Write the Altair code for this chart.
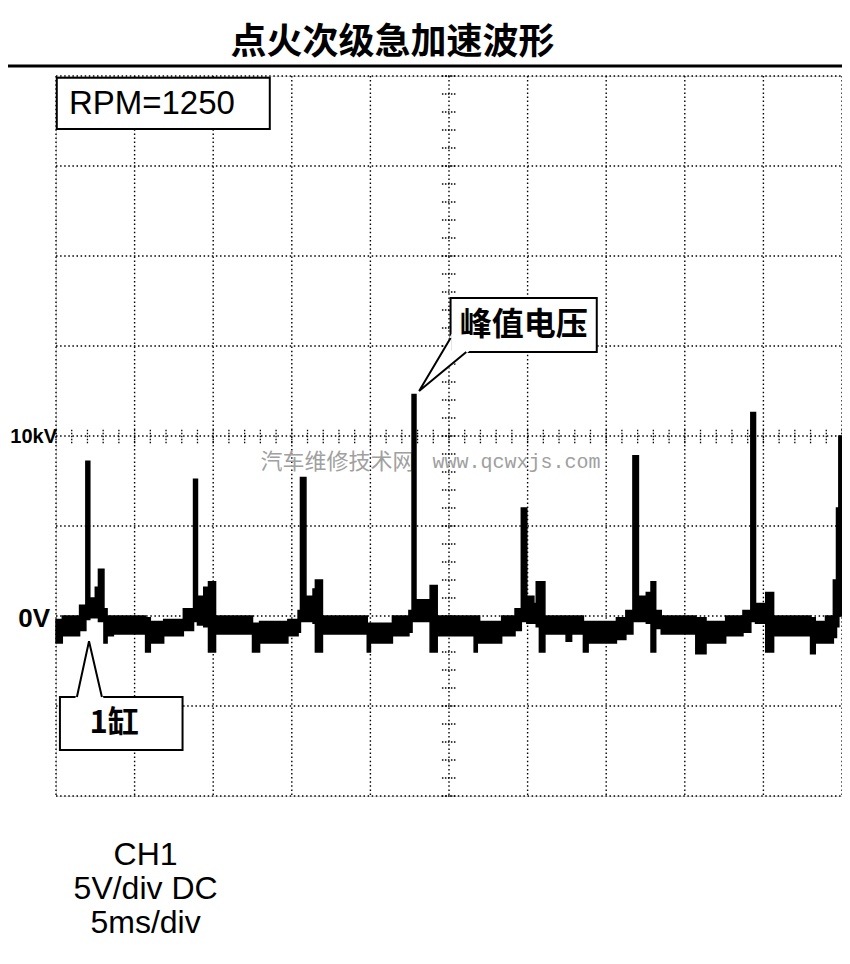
import altair as alt
import pandas as pd

# ---------------- data (time in ms, voltage in kV) ----------------
# secondary ignition trace envelope, step segments: start time, low, high
t_ms = [0.0, 0.4, 1.5, 1.9, 2.15, 2.5, 2.7, 3.05, 3.25, 3.65, 5.7, 6.0, 6.85, 8.1,
        8.75, 9.0, 9.4, 9.7, 10.15, 12.5, 12.95, 14.75, 15.4,
        15.55, 15.9, 16.35, 16.5, 16.95, 19.8, 20.0, 21.4, 22.45,
        22.65, 22.9, 23.8, 24.25, 26.6, 26.8, 26.95, 28.35, 29.2,
        29.6, 29.95, 30.4, 30.55, 30.75, 31.1, 32.45, 32.8, 33.55, 33.85, 35.3, 35.65, 36.25,
        36.7, 37.05, 37.55, 37.85, 38.15, 38.5, 40.7, 41.35, 42.6, 43.7,
        44.2, 44.5, 45.15, 45.65, 48.0, 48.3, 48.95, 49.45, 49.65, 49.8, 50.0]
lo_kv = [-1.5, -1.1, -0.8, -0.2, -0.1, -0.1, -0.3, -1.5, -1.1, -1.0, -2.0, -1.5, -1.1, -0.8,
         -0.3, -0.5, -0.6, -2.0, -1.0, -2.0, -1.5, -1.1, -0.9,
         -0.3, -0.3, -0.4, -2.0, -1.0, -2.0, -1.5, -1.1, -0.9,
         -0.3, -0.3, -2.0, -1.1, -2.0, -1.5, -1.5, -1.1, -0.8,
         -0.3, -0.4, -0.4, -0.6, -2.0, -1.0, -1.4, -1.0, -2.0, -1.5, -1.5, -1.3, -1.0,
         -0.3, -0.3, -0.4, -2.0, -0.7, -1.0, -2.1, -1.5, -1.1, -0.9,
         -0.3, -0.4, -2.0, -1.1, -2.1, -1.5, -1.5, -1.2, -0.6, 0.0, 0.0]
hi_kv = [-0.2, 0.0, 0.6, 8.6, 1.0, 1.6, 2.6, 0.4, 0.0, 0.0, -0.1, -0.3, -0.2, 0.4,
         7.6, 1.1, 1.6, 1.9, 0.0, -0.4, -0.3, -0.2, 0.3,
         7.7, 1.1, 1.5, 2.0, 0.0, -0.4, -0.4, 0.0, 0.3,
         12.3, 0.9, 1.7, 0.0, 0.0, 0.0, -0.3, 0.0, 0.4,
         6.0, 1.1, 0.7, 1.9, 1.9, 0.0, 0.0, 0.0, -0.3, -0.3, -0.3, -0.1, 0.3,
         8.9, 1.1, 1.3, 1.9, 0.3, 0.0, -0.1, -0.3, 0.0, 0.3,
         11.3, 0.7, 1.3, 0.0, -0.1, -0.3, 0.0, 2.0, 6.0, 10.0, 10.0]

# oscilloscope graticule
grid_ms = [0, 5, 10, 15, 20, 25, 30, 35, 40, 45, 50]
grid_kv = [-10, -5, 0, 5, 10, 15, 20, 25, 30]
minor_ms = list(range(0, 51))      # ticks on centre horizontal line
minor_kv = list(range(-10, 31))    # ticks on centre vertical line
centre_ms, centre_kv = 25, 10

# annotations (data coordinates)
title_text = "点火次级急加速波形"
rpm_text = "RPM=1250"
peak_text = "峰值电压"
cyl_text = "1缸"
foot_lines = ["CH1", "5V/div DC", "5ms/div"]
foot_kv = [-13.3, -15.15, -17.05]
wm_cn = "汽车维修技术网"
wm_en = "www.qcwxjs.com"

W, H = 786, 720
xs = alt.Scale(domain=[0, 50], nice=False, zero=False)
ys = alt.Scale(domain=[-10, 30], nice=False, zero=False)


def X(f):
    return alt.X(f, type="quantitative", scale=xs, axis=None)


def Y(f):
    return alt.Y(f, type="quantitative", scale=ys, axis=None)


DOT = [1.5, 2.6]

vgrid = alt.Chart(pd.DataFrame({"x": grid_ms})).mark_rule(
    color="black", strokeWidth=1.4, strokeDash=DOT
).encode(x=X("x"), y=alt.value(0), y2=alt.value(H))

hgrid = alt.Chart(pd.DataFrame({"y": grid_kv})).mark_rule(
    color="black", strokeWidth=1.4, strokeDash=DOT
).encode(y=Y("y"), x=alt.value(0), x2=alt.value(W))

hticks = alt.Chart(pd.DataFrame({"x": minor_ms, "a": [centre_kv - 0.4] * len(minor_ms),
                                 "b": [centre_kv + 0.4] * len(minor_ms)})).mark_rule(
    color="black", strokeWidth=1.3, strokeDash=[1.5, 1.5]
).encode(x=X("x"), y=Y("a"), y2="b")

vticks = alt.Chart(pd.DataFrame({"y": minor_kv, "a": [centre_ms - 0.45] * len(minor_kv),
                                 "b": [centre_ms + 0.45] * len(minor_kv)})).mark_rule(
    color="black", strokeWidth=1.3, strokeDash=[1.5, 1.5]
).encode(y=Y("y"), x=X("a"), x2="b")

trace_df = pd.DataFrame({"t": t_ms, "lo": lo_kv, "hi": hi_kv})
trace = alt.Chart(trace_df).mark_area(
    interpolate="step-after", color="black", stroke="black", strokeWidth=1.5
).encode(x=X("t"), y=Y("hi"), y2="lo")

lbl10 = alt.Chart(pd.DataFrame({"txt": ["10kV"], "y": [10], "x": [0.0]})).mark_text(
    align="right", baseline="middle", font="Liberation Sans", fontSize=20,
    fontWeight="bold", color="black", dy=1, dx=1
).encode(x=X("x"), y=Y("y"), text="txt:N")
lbl0 = alt.Chart(pd.DataFrame({"txt": ["0V"], "y": [0], "x": [-0.38]})).mark_text(
    align="right", baseline="middle", font="Liberation Sans", fontSize=26,
    fontWeight="bold", color="black", dy=3
).encode(x=X("x"), y=Y("y"), text="txt:N")

# title and rule
title = alt.Chart(pd.DataFrame({"x": [21.4], "y": [31.85], "txt": [title_text]})).mark_text(
    font="Noto Sans CJK SC", fontSize=36, fontWeight="bold", color="black",
    align="center", baseline="middle"
).encode(x=X("x"), y=Y("y"), text="txt:N")
title_rule = alt.Chart(pd.DataFrame({"a": [-3.7], "b": [50.3], "y": [30.55]})).mark_rule(
    color="black", strokeWidth=3
).encode(x=X("a"), x2="b", y=Y("y"))

# RPM box
rpm_box = alt.Chart(pd.DataFrame({"a": [0.05], "b": [13.6], "c": [27.05], "d": [29.9]})).mark_rect(
    fill="white", stroke="black", strokeWidth=2
).encode(x=X("a"), x2="b", y=Y("c"), y2="d")
rpm_lbl = alt.Chart(pd.DataFrame({"x": [6.1], "y": [28.45], "txt": [rpm_text]})).mark_text(
    font="Liberation Sans", fontSize=33, color="black", align="center", baseline="middle"
).encode(x=X("x"), y=Y("y"), text="txt:N")

# peak voltage callout
peak_box = alt.Chart(pd.DataFrame({"a": [25.1], "b": [34.4], "c": [14.67], "d": [17.67]})).mark_rect(
    fill="white", stroke="black", strokeWidth=2
).encode(x=X("a"), x2="b", y=Y("c"), y2="d")
peak_ptr_df = pd.DataFrame({"x": [25.1, 23.1, 26.1, 25.1], "y": [15.44, 12.5, 14.67, 14.67],
                            "o": [0, 1, 2, 3]})
peak_cover = alt.Chart(peak_ptr_df).mark_line(
    interpolate="linear-closed", fill="white", stroke="white", strokeWidth=2.5
).encode(x=X("x"), y=Y("y"), order="o:O")
peak_ptr = alt.Chart(peak_ptr_df[peak_ptr_df.o < 3]).mark_line(
    color="black", strokeWidth=2
).encode(x=X("x"), y=Y("y"), order="o:O")
peak_lbl = alt.Chart(pd.DataFrame({"x": [29.75], "y": [16.15], "txt": [peak_text]})).mark_text(
    font="Noto Sans CJK SC", fontSize=32, fontWeight="bold", color="black",
    align="center", baseline="middle"
).encode(x=X("x"), y=Y("y"), text="txt:N")

# cylinder 1 callout
cyl_box = alt.Chart(pd.DataFrame({"a": [0.25], "b": [8.05], "c": [-7.44], "d": [-4.5]})).mark_rect(
    fill="white", stroke="black", strokeWidth=2
).encode(x=X("a"), x2="b", y=Y("c"), y2="d")
cyl_ptr_df = pd.DataFrame({"x": [1.33, 2.1, 2.92], "y": [-4.5, -1.4, -4.5], "o": [0, 1, 2]})
cyl_cover = alt.Chart(cyl_ptr_df).mark_line(
    interpolate="linear-closed", fill="white", stroke="white", strokeWidth=2.5
).encode(x=X("x"), y=Y("y"), order="o:O")
cyl_ptr = alt.Chart(cyl_ptr_df).mark_line(color="black", strokeWidth=2).encode(
    x=X("x"), y=Y("y"), order="o:O")
cyl_lbl = alt.Chart(pd.DataFrame({"x": [3.7], "y": [-6.0], "txt": [cyl_text]})).mark_text(
    font="Noto Sans CJK SC", fontSize=31, fontWeight="bold", color="black",
    align="center", baseline="middle"
).encode(x=X("x"), y=Y("y"), text="txt:N")

# watermark
wm1 = alt.Chart(pd.DataFrame({"x": [17.9], "y": [8.55], "txt": [wm_cn]})).mark_text(
    font="Noto Sans CJK SC", fontSize=22, color="#a0a0a0", align="center", baseline="middle"
).encode(x=X("x"), y=Y("y"), text="txt:N")
wm2 = alt.Chart(pd.DataFrame({"x": [29.3], "y": [8.55], "txt": [wm_en]})).mark_text(
    font="Liberation Mono", fontSize=20, color="#a0a0a0", align="center", baseline="middle"
).encode(x=X("x"), y=Y("y"), text="txt:N")

# footer
foot = alt.Chart(pd.DataFrame({"x": [5.7] * 3, "y": foot_kv, "txt": foot_lines})).mark_text(
    font="Liberation Sans", fontSize=32, color="black", align="center", baseline="middle"
).encode(x=X("x"), y=Y("y"), text="txt:N")

chart = alt.layer(
    vgrid, hgrid, hticks, vticks, wm1, wm2, trace, lbl10, lbl0, title, title_rule,
    rpm_box, rpm_lbl, peak_box, peak_cover, peak_ptr, peak_lbl,
    cyl_box, cyl_cover, cyl_ptr, cyl_lbl, foot
).properties(
    width=W, height=H, autosize=alt.AutoSizeParams(type="none"),
    padding={"left": 48, "top": 68, "right": 0, "bottom": 160}
).configure_view(strokeWidth=0).configure(background="white")

chart.save("out.html", embed_options={"renderer": "svg", "actions": False})
